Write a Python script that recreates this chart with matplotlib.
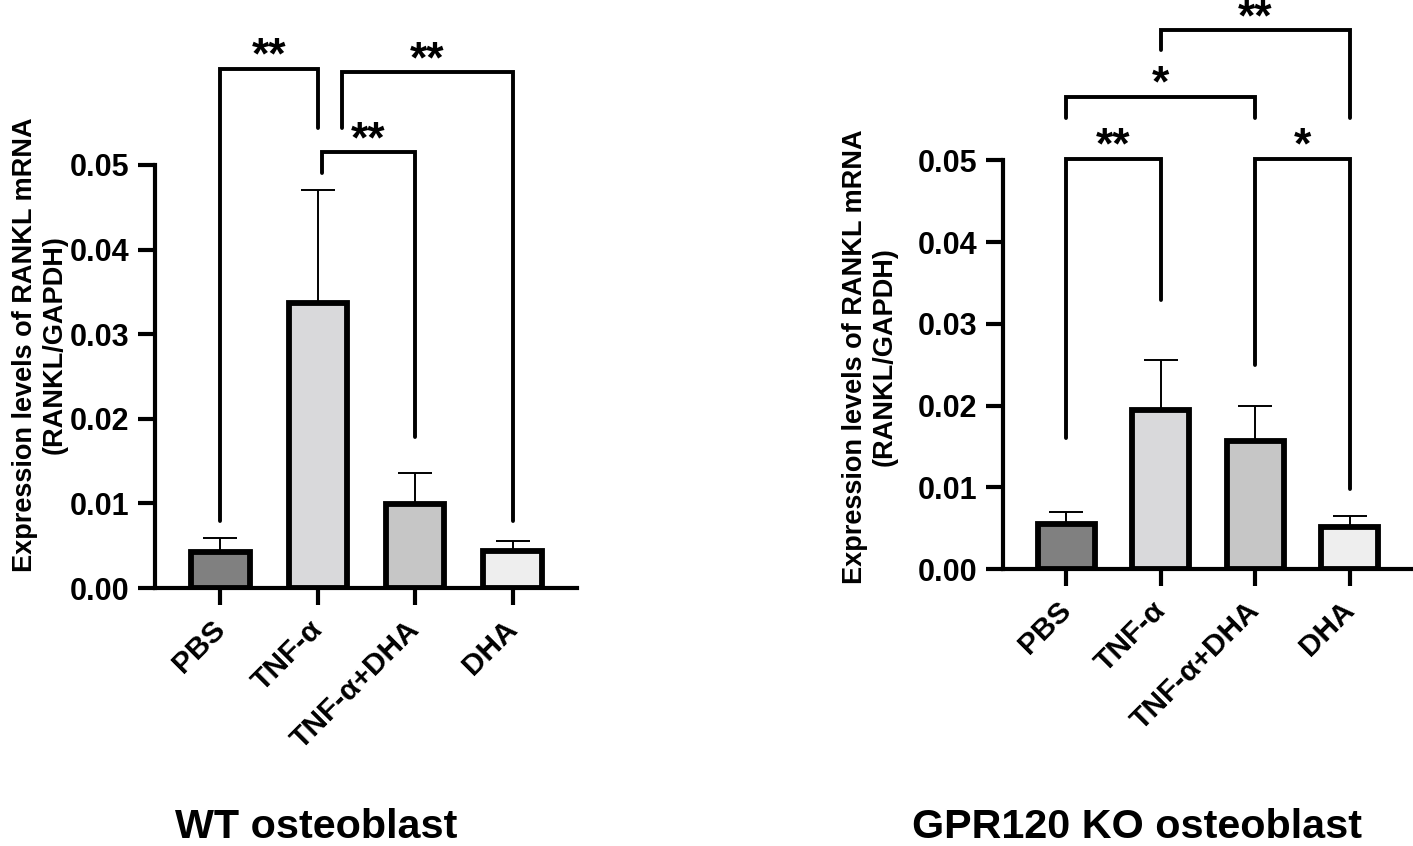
import matplotlib
matplotlib.use("Agg")
import matplotlib.pyplot as plt
import numpy as np

plt.rcParams['font.family'] = ['Liberation Sans', 'DejaVu Sans']
plt.rcParams['font.weight'] = 'bold'

# ---------------- data ----------------
categories = ["PBS", "TNF-α", "TNF-α+DHA", "DHA"]
bar_colors = ["#808080", "#d9d9db", "#c6c6c6", "#eeeeee"]

wt_means = [0.0042, 0.0337, 0.0099, 0.0044]
wt_errs = [0.0017, 0.0133, 0.0037, 0.0011]

ko_means = [0.0055, 0.0194, 0.0157, 0.0052]
ko_errs = [0.0015, 0.0062, 0.0043, 0.0013]

# brackets: (x_left, x_right, y_top, y_left_end, y_right_end, label)
wt_brackets = [
    (0.0, 1.0, 0.0614, 0.0079, 0.0544, "**"),
    (1.25, 3.0, 0.0610, 0.0544, 0.0079, "**"),
    (1.04, 2.0, 0.0515, 0.0490, 0.0178, "**"),
]
ko_brackets = [
    (0.0, 1.0, 0.0502, 0.0160, 0.0329, "**"),
    (2.0, 3.0, 0.0502, 0.0250, 0.0098, "*"),
    (0.0, 2.0, 0.0578, 0.0552, 0.0552, "*"),
    (1.0, 3.0, 0.0659, 0.0635, 0.0552, "**"),
]

yticks = [0.00, 0.01, 0.02, 0.03, 0.04, 0.05]
ylabel = "Expression levels of RANKL mRNA\n(RANKL/GAPDH)"
titles = ["WT osteoblast", "GPR120 KO osteoblast"]

# ---------------- figure ----------------
W, H = 1413, 846
fig = plt.figure(figsize=(W / 100, H / 100), dpi=100)

axL = fig.add_axes([155 / W, 1 - 588 / H, 422 / W, 423 / H])
axR = fig.add_axes([1003 / W, 1 - 569 / H, 409 / W, 408.6 / H])


def draw(ax, means, errs, brackets, label_coords):
    x = np.arange(len(categories))
    ax.bar(x, means, width=0.6, color=bar_colors, edgecolor="black",
           linewidth=4.2, zorder=3)
    ax.errorbar(x, means, yerr=[np.zeros(len(errs)), errs], fmt="none",
                ecolor="black", elinewidth=1.4, capsize=12.5, capthick=1.4,
                zorder=2)
    ax.set_xlim(-0.67, 3.66)
    ax.set_ylim(0, 0.05)
    ax.set_yticks(yticks)
    ax.set_yticklabels([f"{v:.2f}" for v in yticks], fontsize=22,
                       fontweight="bold")
    ax.set_xticks(x)
    ax.set_xticklabels(categories, rotation=45, ha="right", va="center",
                       rotation_mode="anchor", fontsize=21.5,
                       fontweight="bold")
    for s in ["top", "right"]:
        ax.spines[s].set_visible(False)
    for s in ["left", "bottom"]:
        ax.spines[s].set_linewidth(3)
        ax.spines[s].set_capstyle("projecting")
    ax.tick_params(axis="both", direction="out", length=12.5, width=3)
    ax.tick_params(axis="y", pad=6)
    ax.tick_params(axis="x", pad=14)
    ax.set_ylabel(ylabel, fontsize=19.5, fontweight="bold")
    ax.yaxis.set_label_coords(*label_coords)
    for (x1, x2, yt, yl, yr, lab) in brackets:
        ax.plot([x1, x1, x2, x2], [yl, yt, yt, yr], color="black", lw=2.8,
                solid_capstyle="round", solid_joinstyle="miter",
                clip_on=False, zorder=4)
        ax.text((x1 + x2) / 2, yt, lab, ha="center", va="baseline",
                fontsize=32, fontweight="bold", clip_on=False)


draw(axL, wt_means, wt_errs, wt_brackets, (-0.206, 0.575))
draw(axR, ko_means, ko_errs, ko_brackets, (-0.257, 0.52))

fig.text(316 / W, 0.5 / H, titles[0], ha="center", va="bottom",
         fontsize=29.7, fontweight="bold")
fig.text(1137 / W, 0.5 / H, titles[1], ha="center", va="bottom",
         fontsize=29.7, fontweight="bold")

fig.savefig("out.png", dpi=100, facecolor="white")
